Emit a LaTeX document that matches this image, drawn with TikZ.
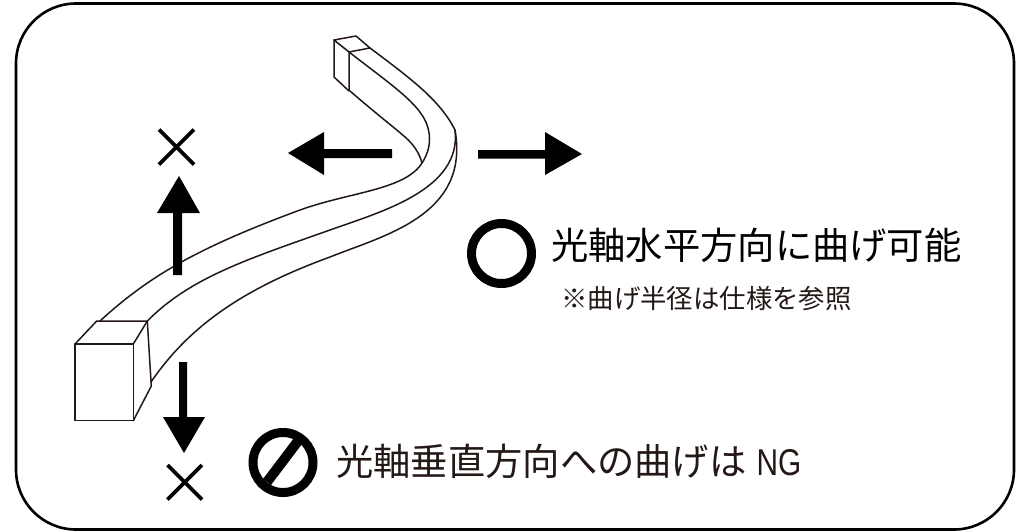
\documentclass[tikz,border=0pt]{standalone}
\usepackage{fontspec}
\usepackage{graphicx}
\newfontfamily\jpfont{Noto Sans CJK JP}
\newfontfamily\latinfont{Liberation Sans}
\definecolor{ink}{HTML}{231815}
\tikzset{
  edge/.style={draw=ink,line width=1.5pt,line join=round,line cap=round},
  frameline/.style={draw=black,line width=2.6pt},
  solid arrow/.style={fill=black,draw=none},
  crossline/.style={draw=black,line width=3.6pt},
  ring/.style={draw=black,line width=9pt},
  bigtext/.style={anchor=west,inner sep=0pt,text=black,font=\jpfont\fontsize{37.3}{40}\selectfont},
  bigtextb/.style={anchor=west,inner sep=0pt,text=ink,font=\jpfont\fontsize{37.3}{40}\selectfont},
  smalltext/.style={anchor=west,inner sep=0pt,text=ink,font=\jpfont\fontsize{26.4}{30}\selectfont}
}
\begin{document}
\begin{tikzpicture}[x=1pt,y=-1pt]
\useasboundingbox (0,0) rectangle (1025,531);
\fill[white] (0,0) rectangle (1025,531);
% frame
\draw[frameline,rounded corners=60pt] (16,3.5) rectangle (1014,529.5);
% near box
\draw[edge] (75,344) -- (133.3,344) -- (133.3,420.7) -- (75,420.7) -- cycle;
\draw[edge] (75,344) -- (96.7,321) -- (147.3,321) -- (133.3,344);
\draw[edge] (147.3,321) -- (151.3,386) -- (133.3,420.7);
% strip edges
\draw[edge] (100,321) .. controls (150,275) and (200,247) .. (300,210) .. controls (350,192) and (405,190) .. (422,163);
\draw[edge] (147.3,321) .. controls (190,278) and (245,260) .. (330,230) .. controls (380,212) and (462,190) .. (455,130);
\draw[edge] (151,382) .. controls (190,325) and (245,288) .. (330,257) .. controls (385,235) and (470,215) .. (455,130);
\draw[edge] (455,130) .. controls (440,100) and (410,78) .. (370,48);
\draw[edge] (349,52) .. controls (385,80) and (410,97) .. (422,115) .. controls (432,130) and (432,148) .. (422,163);
\draw[edge] (350,91) .. controls (380,117) and (395,128) .. (405,137) .. controls (413,144) and (419,152) .. (422,163);
% far box
\draw[edge] (334,40) -- (356,36) -- (370,48) -- (349,52) -- cycle;
\draw[edge] (334,40) -- (334,77) -- (349,91) -- (349,52);
% arrows
\fill[solid arrow] (392,149) -- (324,149) -- (324,132) -- (288,153) -- (324,175) -- (324,158) -- (392,158) -- cycle;
\fill[solid arrow] (478,150) -- (545,150) -- (545,132) -- (582,154) -- (545,175) -- (545,158.7) -- (478,158.7) -- cycle;
\fill[solid arrow] (173,275) -- (173,213) -- (157,213) -- (179,176) -- (200,213) -- (182,213) -- (182,275) -- cycle;
\fill[solid arrow] (179,362) -- (179,417) -- (163,417) -- (184,453) -- (205,417) -- (187,417) -- (187,362) -- cycle;
% crosses
\draw[crossline] (159,129.5) -- (194,164.5) (194,129.5) -- (159,164.5);
\draw[crossline] (167.5,465) -- (202,499.5) (202,465) -- (167.5,499.5);
% circle
\draw[ring] (501.5,253.5) circle (30);
% prohibition
\draw[ring] (283,462.5) circle (30);
\draw[draw=black,line width=10pt] (267,482) -- (298,441);
% text
\node[bigtext] (horiz) at (551,245) {光軸水平方向に曲げ可能};
\node[smalltext] (note) at (561,299) {※曲げ半径は仕様を参照};
\node[bigtextb] (vert) at (336,461) {光軸垂直方向への曲げは\hspace{10pt}\scalebox{0.8}[1]{\latinfont NG}};
\end{tikzpicture}
\end{document}
